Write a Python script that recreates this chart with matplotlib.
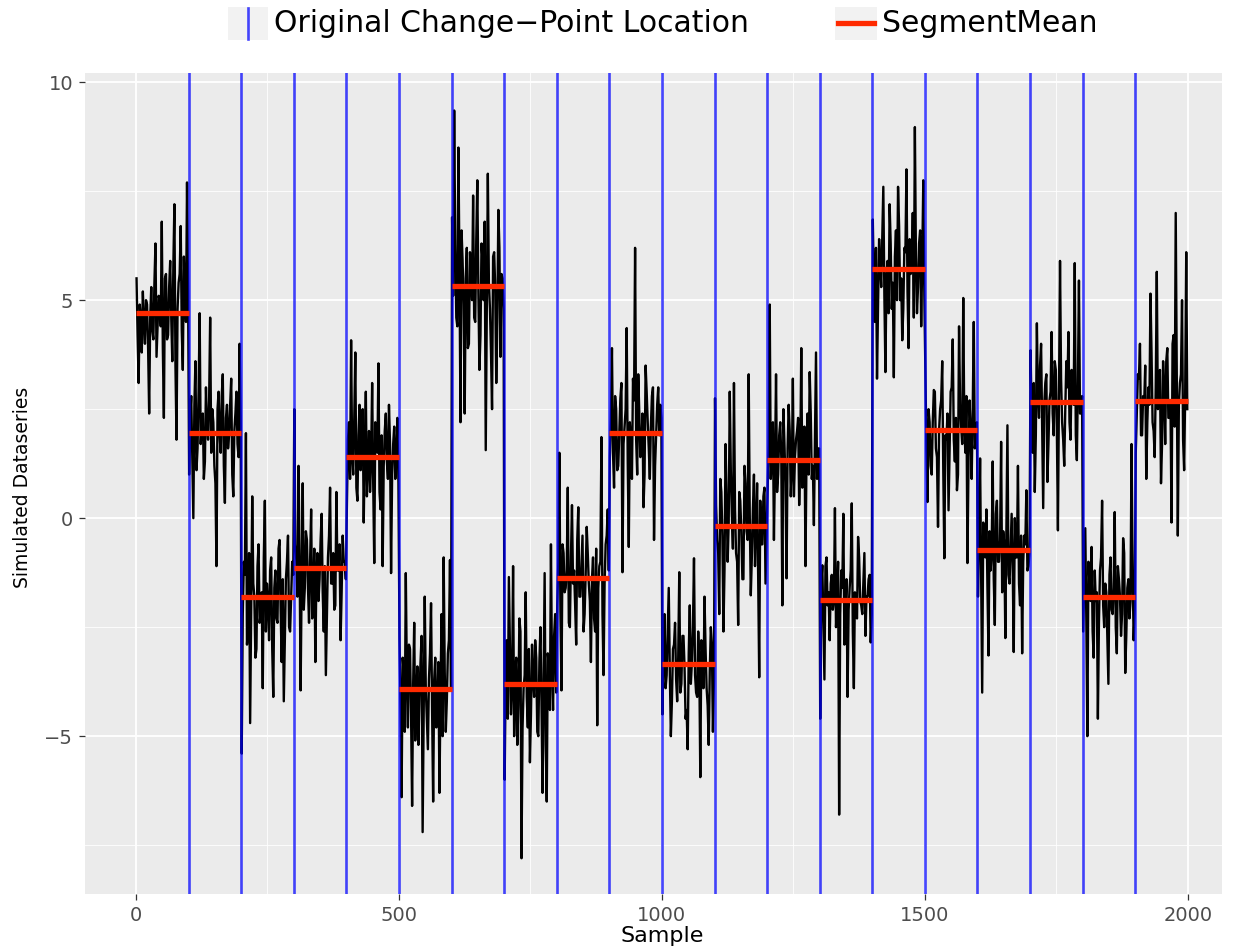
import numpy as np
import matplotlib
matplotlib.use("Agg")
import matplotlib.pyplot as plt
from matplotlib.patches import Rectangle
from matplotlib.lines import Line2D

# ---------------- data ----------------
change_points = [100, 200, 300, 400, 500, 600, 700, 800, 900, 1000,
                 1100, 1200, 1300, 1400, 1500, 1600, 1700, 1800, 1900]
segment_starts = [0, 100, 200, 300, 400, 500, 600, 700, 800, 900,
                  1000, 1100, 1200, 1300, 1400, 1500, 1600, 1700, 1800, 1900]
segment_ends = [100, 200, 300, 400, 500, 600, 700, 800, 900, 1000,
                1100, 1200, 1300, 1400, 1500, 1600, 1700, 1800, 1900, 2000]
segment_means = [4.70, 1.95, -1.80, -1.15, 1.40, -3.92, 5.33, -3.81, -1.38, 1.95,
                 -3.35, -0.18, 1.34, -1.88, 5.71, 2.02, -0.73, 2.66, -1.81, 2.68]

# samples read at even positions (spikes / extremes) ...
seg00a = [5.5, 3.1, 4.6, 5.2, 4.0, 4.9, 2.4, 5.3, 4.1, 6.3, 4.4, 5.0, 6.8, 2.3, 5.6, 4.2, 5.9, 3.6, 7.2, 1.8, 5.4, 6.7, 3.4, 5.1, 7.7]
seg01a = [1.0, 2.8, 0.0, 3.6, 1.6, 4.7, 2.2, 0.9, 3.0, 1.8, 4.6, 2.5, 1.2, -1.1, 2.9, 1.5, 3.3, 0.35, 2.6, 1.9, 3.2, 0.5, 2.4, 1.7, 4.0]
seg02a = [-5.4, -1.0, 1.95, -2.5, -4.7, 0.5, -1.8, -3.0, -0.6, -2.2, -3.9, 0.4, -1.5, -2.8, -0.9, -4.1, -1.2, -2.4, -0.5, -3.3, -4.2, -1.4, -0.4, -2.6, -1.0]
seg03a = [2.5, -1.0, 1.2, -3.95, 0.8, -1.6, -0.5, -2.4, 0.2, -1.9, -3.3, -0.8, -1.4, 0.1, -2.6, -3.6, -0.9, 0.7, -1.5, -2.1, 0.6, -1.2, -2.8, -0.4, -1.0]
seg04a = [0.3, 2.2, 4.08, 1.0, 3.8, 0.4, 2.6, 1.5, -0.1, 2.9, 1.2, 0.6, 3.1, -1.03, 1.8, 3.55, 0.2, -1.1, 2.0, 1.3, 2.6, -1.26, 1.7, 0.9, 2.3]
seg05a = [-2.75, -6.4, -3.5, -1.26, -4.8, -3.0, -6.6, -2.4, -4.1, -5.2, -3.3, -7.2, -1.8, -4.6, -3.7, -1.95, -6.5, -3.2, -4.4, -6.3, -2.2, -0.9, -4.9, -3.1, -0.96]
seg06a = [6.9, 9.35, 4.6, 8.5, 2.2, 5.9, 2.4, 6.2, 4.0, 5.6, 7.4, 4.5, 7.75, 3.4, 6.3, 5.0, 1.56, 7.9, 4.8, 2.5, 6.1, 3.1, 7.07, 3.7, 5.5]
seg07a = [-6.0, -2.8, -1.35, -4.5, -1.1, -3.6, -5.2, -2.3, -7.8, -3.9, -1.7, -4.8, -5.6, -2.9, -4.1, -3.2, -5.0, -2.5, -6.3, -1.26, -6.5, -3.4, -0.6, -4.4, -2.2]
seg08a = [-2.0, 1.5, -3.95, -0.8, -1.6, 0.7, -2.5, 0.3, -1.2, -2.9, 0.25, -1.8, -0.4, -2.2, -0.2, -1.5, -3.3, -0.9, -2.6, -4.75, -1.1, 1.86, -3.6, -0.6, 0.2]
seg09a = [1.4, 3.9, 0.7, 2.5, 1.2, 2.75, -1.24, 2.1, 4.36, -0.66, 1.8, 3.2, 6.2, 1.0, 2.4, 1.6, 0.25, 3.5, 2.2, 0.9, 2.8, -0.5, 1.9, 3.0, 2.6]
seg10a = [-4.5, -2.2, -3.6, -1.6, -5.0, -3.0, -2.4, -4.2, -1.24, -3.8, -2.7, -4.6, -5.3, -2.0, -3.3, -0.92, -4.0, -2.6, -5.94, -3.1, -1.8, -3.9, -5.2, -2.5, -4.9]
seg11a = [2.75, -0.5, -2.2, 0.6, -2.6, 1.7, -1.0, 2.9, 0.1, 3.1, -0.8, -2.45, 0.4, -1.4, 1.2, -0.3, 3.3, -1.77, 0.2, -1.1, 0.8, -3.65, -0.6, 0.5, -1.5]
seg12a = [0.8, 4.9, 1.5, -0.5, 3.3, 1.0, 2.2, -2.0, 1.7, -1.38, 2.6, 0.5, 3.2, 1.4, 2.0, 0.3, 3.9, 1.1, -1.1, 2.4, 3.35, 0.9, -0.16, 3.8, 1.6]
seg13a = [-4.6, -1.08, -3.7, -0.9, -1.7, -1.5, -2.1, 0.23, -2.0, -6.8, -1.2, 0.1, -2.0, -4.1, -1.6, 0.34, -3.9, -2.2, -0.43, -1.9, -2.2, -0.8, -1.8, -1.4, -2.85]
seg14a = [6.85, 4.5, 3.2, 6.4, 5.3, 7.6, 3.35, 5.9, 7.2, 4.8, 3.23, 6.6, 7.6, 5.0, 4.08, 6.2, 8.0, 3.9, 5.6, 7.0, 8.97, 4.7, 6.3, 4.4, 7.75]
seg15a = [3.4, 0.37, 2.2, 1.0, 2.94, 1.6, -0.2, 2.5, 3.6, -0.92, 1.8, 0.18, 2.9, 4.1, 1.3, 0.64, 4.4, 2.1, 5.05, 1.5, -1.03, 2.7, 0.9, 4.5, 1.9]
seg16a = [-1.8, 1.37, -4.0, -0.6, 0.2, -3.15, -1.2, 1.3, -2.45, 0.4, -1.0, 1.75, -0.3, -2.75, 2.13, -1.5, 0.1, -3.07, -0.9, 1.2, -2.0, -3.1, -0.4, 0.64, -1.1]
seg17a = [3.85, 1.5, 0.6, 4.47, 2.3, 4.0, 0.23, 3.1, 0.83, 2.7, 4.27, 1.9, 3.4, -0.28, 5.9, 2.2, 1.2, 3.6, 4.27, 1.8, 2.9, 5.85, 1.33, 5.45, 2.4]
seg18a = [-2.6, -0.23, -5.0, -1.5, -0.66, -3.2, -1.9, -4.6, -1.2, 0.4, -2.5, -1.7, -3.8, -0.9, -2.2, 0.14, -3.1, -1.4, -2.7, -0.46, -3.55, -1.6, -2.3, 1.7, -2.8]
seg19a = [1.5, 3.3, 4.0, 1.9, 2.6, 0.9, 3.0, 5.15, 2.2, 1.4, 5.65, 2.8, 0.8, 3.6, 1.7, 3.9, 2.3, -0.1, 4.2, 7.0, -0.4, 3.1, 5.0, 1.1, 6.1]

# ... and the in-between samples forming the dense core of each band
seg00b = [4.2, 4.9, 3.8, 4.5, 5.0, 3.9, 4.6, 4.3, 5.4, 3.7, 5.1, 4.4, 3.9, 5.5, 4.1, 5.3, 4.6, 5.8, 3.5, 4.8, 5.6, 4.3, 6.0, 4.5, 5.2]
seg01b = [2.3, 1.4, 2.6, 1.1, 2.9, 1.7, 2.4, 1.3, 2.1, 2.7, 1.5, 2.2, 0.8, 2.5, 1.9, 2.8, 1.2, 2.3, 1.6, 2.6, 1.0, 2.0, 2.9, 1.4, 2.2]
seg02b = [-2.2, -1.3, -2.9, -0.8, -2.0, -1.5, -3.2, -1.1, -2.4, -1.7, -0.9, -2.6, -1.9, -1.2, -3.0, -1.6, -2.3, -0.7, -2.1, -1.4, -2.8, -1.0, -2.5, -1.8, -1.3]
seg03b = [-0.6, -1.8, -0.9, -1.4, -2.1, -0.3, -1.6, -1.0, -2.3, -0.7, -1.3, -1.9, -0.5, -1.7, -1.1, -2.2, -0.4, -1.5, -0.8, -2.0, -1.2, -0.6, -1.7, -1.0, -1.4]
seg04b = [1.8, 0.9, 1.4, 2.3, 0.7, 1.9, 1.1, 2.5, 1.6, 0.5, 2.0, 1.3, 0.8, 2.2, 1.5, 0.6, 1.9, 1.2, 2.4, 0.9, 1.7, 1.0, 2.1, 1.4, 0.8]
seg05b = [-4.3, -3.2, -4.9, -3.6, -2.9, -4.5, -3.8, -5.1, -3.4, -4.1, -2.7, -4.6, -3.9, -5.3, -3.1, -4.4, -3.7, -4.8, -3.3, -4.0, -5.0, -3.5, -4.2, -2.8, -3.9]
seg06b = [5.1, 6.3, 4.4, 5.8, 6.6, 4.9, 5.5, 3.9, 6.1, 5.0, 4.6, 6.4, 5.2, 4.2, 5.9, 6.8, 4.7, 5.4, 3.8, 6.0, 5.3, 4.5, 6.2, 5.6, 4.8]
seg07b = [-3.4, -4.6, -2.9, -3.9, -5.0, -3.2, -4.3, -2.6, -4.8, -3.6, -4.1, -3.0, -4.5, -3.7, -2.8, -4.9, -3.3, -4.2, -3.8, -5.2, -3.1, -4.4, -3.5, -2.7, -4.0]
seg08b = [-1.0, -2.1, -0.6, -1.7, -1.2, -2.4, -0.9, -1.5, -2.0, -0.5, -1.8, -1.1, -2.6, -1.3, -0.8, -1.9, -1.4, -2.3, -0.7, -1.6, -1.0, -2.2, -1.5, -0.4, -1.2]
seg09b = [2.3, 1.5, 2.8, 1.1, 2.0, 3.1, 1.7, 2.5, 1.3, 2.2, 0.9, 2.7, 1.8, 3.3, 1.4, 2.4, 1.0, 2.9, 1.6, 2.1, 3.0, 1.2, 2.6, 1.9, 2.3]
seg10b = [-3.0, -3.9, -2.6, -3.5, -4.2, -2.9, -3.7, -3.2, -4.0, -2.7, -3.4, -4.4, -3.1, -3.8, -2.5, -3.6, -4.1, -3.3, -2.8, -3.9, -3.0, -4.3, -3.5, -2.9, -3.7]
seg11b = [0.3, -0.8, 0.9, -0.4, -1.2, 0.5, -0.1, 1.1, -0.7, 0.2, -1.0, 0.6, -0.3, -1.4, 0.8, -0.5, 0.1, -0.9, 1.0, -0.2, -1.3, 0.4, -0.6, 0.7, -0.4]
seg12b = [1.7, 0.9, 2.2, 1.2, 0.6, 1.9, 1.4, 2.5, 0.8, 1.6, 2.0, 1.1, 0.5, 1.8, 2.3, 1.3, 0.7, 2.1, 1.5, 1.0, 2.4, 1.2, 1.8, 0.9, 1.6]
seg13b = [-1.5, -2.4, -1.1, -2.0, -2.8, -1.3, -1.9, -2.5, -1.0, -2.2, -1.6, -2.9, -1.4, -2.1, -1.2, -2.6, -1.7, -2.3, -0.9, -2.0, -1.5, -2.7, -1.8, -1.3, -2.2]
seg14b = [5.3, 6.2, 4.9, 5.8, 6.5, 5.1, 5.6, 4.7, 6.3, 5.4, 6.0, 5.0, 6.7, 5.5, 4.8, 6.1, 5.2, 6.4, 5.7, 4.6, 6.0, 5.3, 6.6, 5.9, 5.1]
seg15b = [1.6, 2.5, 1.2, 2.2, 2.9, 1.4, 2.0, 2.7, 1.1, 1.9, 2.4, 1.5, 3.0, 1.8, 2.3, 1.0, 2.6, 1.7, 2.1, 2.8, 1.3, 2.0, 2.5, 1.6, 2.2]
seg16b = [-0.4, -1.2, -0.1, -0.9, -1.6, -0.3, -0.8, -1.4, 0.1, -1.0, -0.5, -1.7, -0.6, -0.2, -1.3, -0.7, -1.1, 0.0, -0.9, -1.5, -0.4, -1.0, -0.6, -1.2, -0.8]
seg17b = [2.3, 3.1, 1.9, 2.8, 3.5, 2.1, 2.6, 3.3, 1.7, 2.9, 2.4, 3.6, 2.0, 2.7, 3.2, 1.8, 2.5, 3.0, 2.2, 3.4, 2.6, 1.9, 3.1, 2.4, 2.8]
seg18b = [-1.4, -2.3, -1.0, -1.9, -2.6, -1.2, -1.7, -2.4, -0.9, -2.0, -1.5, -2.8, -1.3, -2.1, -1.6, -2.5, -1.1, -1.8, -2.2, -0.8, -2.7, -1.4, -1.9, -1.2, -2.1]
seg19b = [2.4, 3.2, 1.9, 2.8, 3.5, 2.2, 2.6, 3.8, 2.0, 3.0, 2.5, 3.4, 1.7, 2.9, 3.6, 2.3, 2.7, 4.0, 2.1, 3.1, 2.6, 3.3, 1.8, 2.9, 2.5]

x_ticks = [0, 500, 1000, 1500, 2000]
x_tick_labels = ["0", "500", "1000", "1500", "2000"]
y_ticks = [-5, 0, 5, 10]
y_tick_labels = ["\u22125", "0", "5", "10"]

legend_labels = ["Original Change\u2212Point Location", "SegmentMean"]
x_label = "Sample"
y_label = "Simulated Dataseries"

# ---------------- assemble series (interleave a/b samples) ----------------
segs_a = [seg00a, seg01a, seg02a, seg03a, seg04a, seg05a, seg06a, seg07a, seg08a, seg09a,
          seg10a, seg11a, seg12a, seg13a, seg14a, seg15a, seg16a, seg17a, seg18a, seg19a]
segs_b = [seg00b, seg01b, seg02b, seg03b, seg04b, seg05b, seg06b, seg07b, seg08b, seg09b,
          seg10b, seg11b, seg12b, seg13b, seg14b, seg15b, seg16b, seg17b, seg18b, seg19b]
xs, ys = [], []
for start, end, va, vb in zip(segment_starts, segment_ends, segs_a, segs_b):
    vals = []
    for a, b in zip(va, vb):
        vals.extend([a, b])
    step = (end - start) / len(vals)
    for i, v in enumerate(vals):
        xs.append(start + 1 + i * step)
        ys.append(v)

# ---------------- figure ----------------
W, H = 1235, 949
fig = plt.figure(figsize=(W / 100, H / 100), dpi=100)
fig.patch.set_facecolor("white")

ax = fig.add_axes([85 / W, 1 - 894 / H, (1222 - 85) / W, (894 - 73) / H])
ax.set_facecolor("#EBEBEB")
ax.set_xlim(-97, 2065)
ax.set_ylim(-8.62, 10.21)

ax.set_xticks(x_ticks)
ax.set_xticklabels(x_tick_labels)
ax.set_yticks(y_ticks)
ax.set_yticklabels(y_tick_labels)
ax.set_xticks([250, 750, 1250, 1750], minor=True)
ax.set_yticks([-7.5, -2.5, 2.5, 7.5], minor=True)
ax.grid(which="major", color="white", lw=1.3, zorder=0)
ax.grid(which="minor", color="white", lw=0.6, zorder=0)
ax.set_axisbelow(True)
for s in ax.spines.values():
    s.set_visible(False)
ax.tick_params(which="major", length=4.5, width=0.9, color="#333333",
               labelcolor="#4D4D4D", labelsize=14, pad=4)
ax.tick_params(which="minor", length=0)
for lab in ax.get_xticklabels() + ax.get_yticklabels():
    lab.set_family("DejaVu Sans")

ax.plot(xs, ys, color="black", lw=1.7, zorder=2)
for cp in change_points:
    ax.axvline(cp, color="blue", alpha=0.72, lw=1.9, zorder=3)
ax.hlines(segment_means, segment_starts, segment_ends, color="#FF2A00", lw=3.8, zorder=4)

fig.text(23 / W, 1 - 487 / H, y_label, rotation=90, ha="center", va="center",
         fontsize=13.5, color="black", family="DejaVu Sans")
fig.text((136 + 1188) / 2 / W, 1 - 936 / H, x_label, ha="center", va="center",
         fontsize=16, color="black", family="DejaVu Sans")

# ---------------- legend (top) ----------------
def px(x, y):
    return x / W, 1 - y / H

fig.add_artist(Rectangle(px(228, 40), 40 / W, 33 / H, transform=fig.transFigure,
                         facecolor="#F2F2F2", edgecolor="none"))
fig.add_artist(Line2D([248 / W, 248 / W], [1 - 39 / H, 1 - 8 / H], transform=fig.transFigure,
                      color="blue", alpha=0.72, lw=1.9))
fig.text(274 / W, 1 - 23 / H, legend_labels[0], ha="left", va="center",
         fontsize=21.5, color="black", family="DejaVu Sans")
fig.add_artist(Rectangle(px(835, 40), 42 / W, 33 / H, transform=fig.transFigure,
                         facecolor="#F2F2F2", edgecolor="none"))
fig.add_artist(Line2D([838 / W, 874 / W], [1 - 23 / H, 1 - 23 / H], transform=fig.transFigure,
                      color="#FF2A00", lw=3.8))
fig.text(882 / W, 1 - 23 / H, legend_labels[1], ha="left", va="center",
         fontsize=21.5, color="black", family="DejaVu Sans")

fig.savefig("out.png", dpi=100, facecolor="white")
